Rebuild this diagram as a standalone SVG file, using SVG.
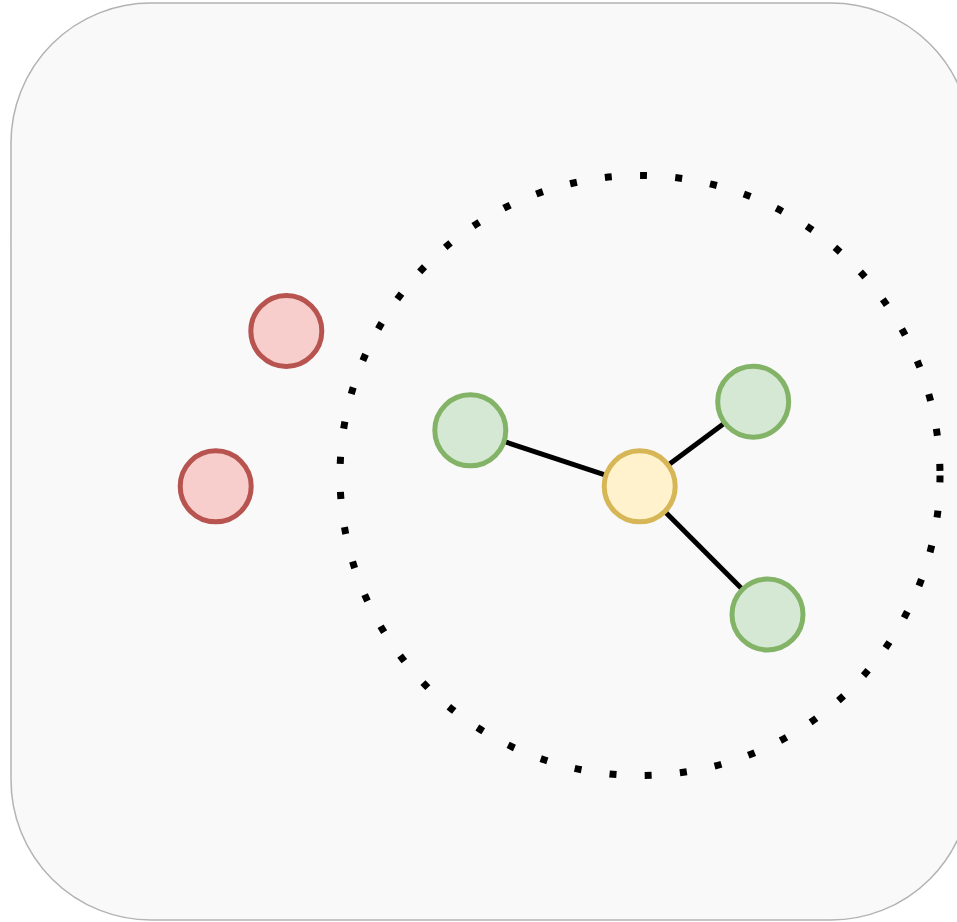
<svg xmlns="http://www.w3.org/2000/svg" width="957" height="922" viewBox="0 0 957 922">
  <style>
    .panel { fill: #f9f9f9; stroke: #b3b3b3; stroke-width: 1.5; }
    .boundary { fill: none; stroke: #000000; stroke-width: 7; stroke-dasharray: 7 28.33; }
    .edge { stroke: #000000; stroke-width: 5; fill: none; }
    .node circle { stroke-width: 5; }
    .red circle { fill: #f8cecc; stroke: #b85450; }
    .green circle { fill: #d5e8d4; stroke: #82b366; }
    .yellow circle { fill: #fff2cc; stroke: #d6b656; }
  </style>

  <!-- background panel -->
  <rect id="panel" class="panel" x="11" y="3" width="960" height="917" rx="140" ry="140"/>

  <!-- dotted boundary -->
  <circle id="boundary" class="boundary" cx="640" cy="475.5" r="300"/>

  <!-- connectors -->
  <g id="connectors">
    <line class="edge" x1="470.3" y1="430.3" x2="639.7" y2="486.3"/>
    <line class="edge" x1="639.7" y1="486.3" x2="753.2" y2="401.7"/>
    <line class="edge" x1="639.7" y1="486.3" x2="767.5" y2="614.5"/>
  </g>

  <!-- nodes -->
  <g id="node-red-top" class="node red"><circle cx="286.3" cy="331" r="35.5"/></g>
  <g id="node-red-bottom" class="node red"><circle cx="215.7" cy="486.3" r="35.5"/></g>
  <g id="node-green-left" class="node green"><circle cx="470.3" cy="430.3" r="35.5"/></g>
  <g id="node-green-top" class="node green"><circle cx="753.2" cy="401.7" r="35.5"/></g>
  <g id="node-green-bottom" class="node green"><circle cx="767.5" cy="614.5" r="35.5"/></g>
  <g id="node-center" class="node yellow"><circle cx="639.7" cy="486.3" r="35.5"/></g>
</svg>
